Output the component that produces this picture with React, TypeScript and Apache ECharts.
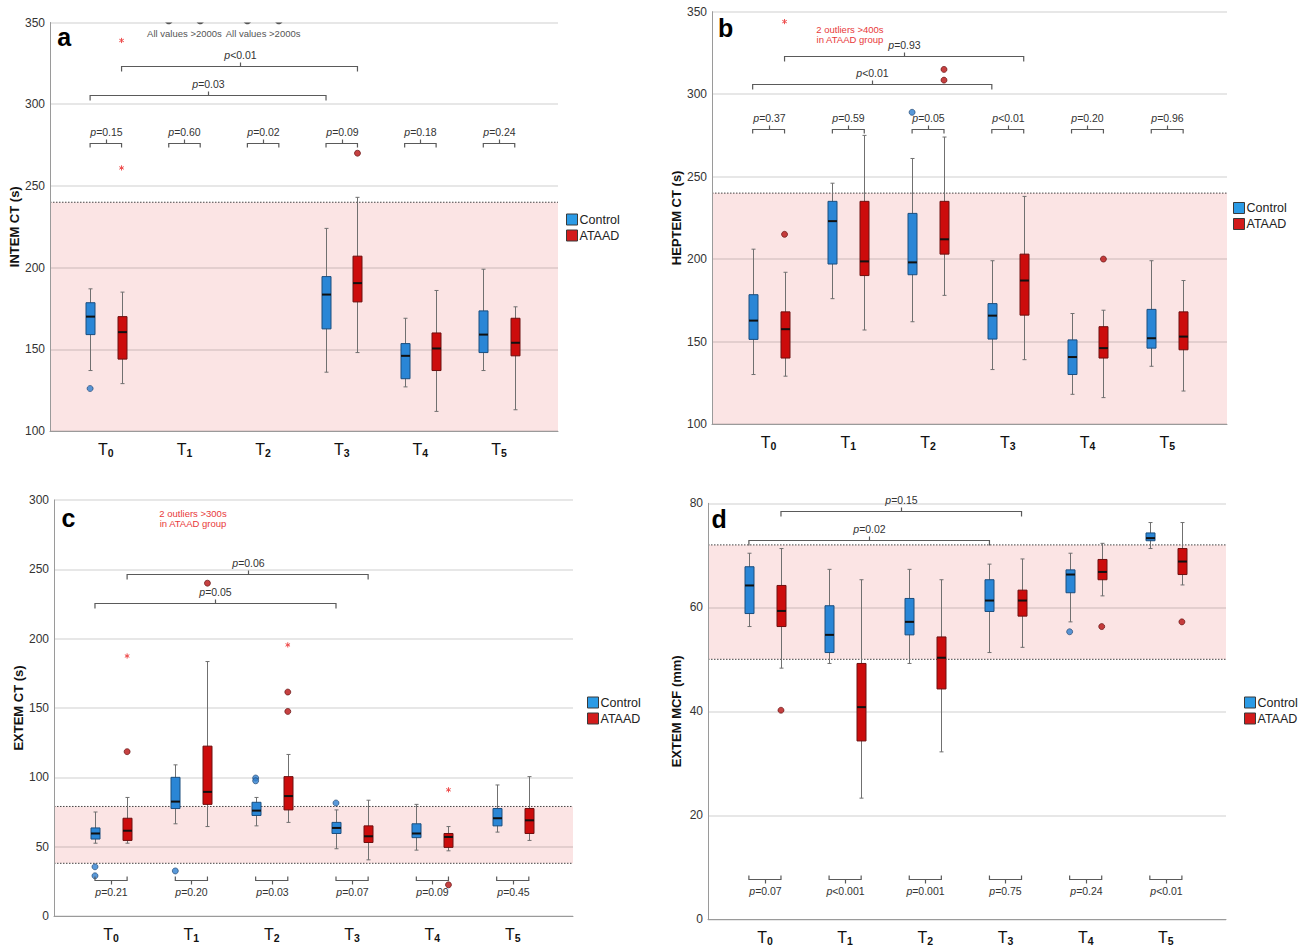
import React, { useEffect, useRef } from 'react';
import * as echarts from 'echarts';

// ---------- data ----------
const TIME_POINTS = ['0', '1', '2', '3', '4', '5'];
const GROUPS = ['Control', 'ATAAD'];

// each box: [lower whisker, Q1, median, Q3, upper whisker]; null = no box drawn
// Panel a: INTEM CT (s)
const INTEM_CONTROL = [
  [137, 159, 170, 178.5, 187],
  null,
  null,
  [136, 162.5, 183.5, 194.5, 224],
  [127, 132, 146, 153.5, 169],
  [137, 148, 159, 173.5, 199],
];
const INTEM_ATAAD = [
  [129, 144, 160.5, 170, 185],
  null,
  null,
  [148, 179, 190.5, 207, 243],
  [112, 137, 150.5, 160, 186],
  [113, 146, 154, 169, 176],
];
const INTEM_CONTROL_OUTLIERS = [[0, 126]];
const INTEM_ATAAD_OUTLIERS = [[3, 270]];
const INTEM_ATAAD_EXTREMES = [[0, 339], [0, 261]];
const INTEM_OFFSCALE_TIMES = [1, 2];
const INTEM_NOTE = ['All values >2000s'];
const INTEM_REF = [100, 240];
const INTEM_P_GROUP = ['=0.15', '=0.60', '=0.02', '=0.09', '=0.18', '=0.24'];
const INTEM_P_CONTROL = '=0.03';
const INTEM_P_ATAAD = '<0.01';

// Panel b: HEPTEM CT (s)
const HEPTEM_CONTROL = [
  [130, 151.3, 162.7, 178.4, 206],
  [176, 197, 223, 235, 246],
  [162, 190.5, 198, 227.7, 261],
  [133, 151.5, 165.7, 173, 199],
  [118, 130, 140.6, 151, 167],
  [135, 146, 152, 169.5, 199],
];
const HEPTEM_ATAAD = [
  [129, 140, 157.5, 168, 192],
  [157, 190, 198.6, 235, 275],
  [178, 203, 212, 235, 274],
  [139, 166, 187, 203, 238],
  [116, 140, 146, 159, 169],
  [120, 145, 153, 168, 187],
];
const HEPTEM_CONTROL_OUTLIERS = [[2, 289]];
const HEPTEM_ATAAD_OUTLIERS = [[0, 215], [2, 315], [2, 308.5], [4, 200]];
const HEPTEM_ATAAD_EXTREMES = [[0, 344]];
const HEPTEM_NOTE = ['2 outliers >400s', 'in ATAAD group'];
const HEPTEM_REF = [100, 240];
const HEPTEM_P_GROUP = ['=0.37', '=0.59', '=0.05', '<0.01', '=0.20', '=0.96'];
const HEPTEM_P_CONTROL = '<0.01';
const HEPTEM_P_ATAAD = '=0.93';

// Panel c: EXTEM CT (s)
const EXTEM_CT_CONTROL = [
  [52.5, 55.5, 59.5, 63.5, 75],
  [66.5, 77.5, 82.5, 100, 109],
  [65, 72.5, 76, 82, 85.5],
  [48.5, 59.5, 63.5, 67.5, 76.5],
  [47.5, 56.5, 59.5, 66.5, 80.5],
  [60.5, 65, 70.5, 77.5, 94.5],
];
const EXTEM_CT_ATAAD = [
  [52.5, 54.5, 61.5, 70.5, 85.5],
  [64.5, 80.5, 89.5, 122.5, 183.5],
  [67.5, 76.5, 86.5, 100.5, 116.5],
  [40.5, 53, 57.5, 65, 83.5],
  [47, 49.5, 57, 59.5, 64.5],
  [54.5, 59.5, 69, 77.5, 100.5],
];
const EXTEM_CT_CONTROL_OUTLIERS = [[0, 35.5], [0, 29], [1, 32.5], [2, 99.5], [2, 97.5], [3, 81.5]];
const EXTEM_CT_ATAAD_OUTLIERS = [[0, 118.5], [1, 240], [2, 161.5], [2, 147.5], [4, 22.5]];
const EXTEM_CT_ATAAD_EXTREMES = [[0, 187.5], [2, 195.5], [4, 91]];
const EXTEM_CT_NOTE = ['2 outliers >300s', 'in ATAAD group'];
const EXTEM_CT_REF = [38, 79];
const EXTEM_CT_P_GROUP = ['=0.21', '=0.20', '=0.03', '=0.07', '=0.09', '=0.45'];
const EXTEM_CT_P_CONTROL = '=0.05';
const EXTEM_CT_P_ATAAD = '=0.06';

// Panel d: EXTEM MCF (mm)
const EXTEM_MCF_CONTROL = [
  [56.3, 58.8, 64.2, 67.8, 70.4],
  [49.2, 51.3, 54.7, 60.3, 67.3],
  [49.2, 54.7, 57.2, 61.7, 67.3],
  [51.3, 59.2, 61.3, 65.3, 68.3],
  [57.2, 62.8, 66.3, 67.2, 70.4],
  [71.3, 72.8, 73.3, 74.3, 76.3],
];
const EXTEM_MCF_ATAAD = [
  [48.3, 56.3, 59.3, 64.2, 71.3],
  [23.3, 34.3, 40.8, 49.2, 65.3],
  [32.2, 44.3, 50.3, 54.3, 65.3],
  [52.3, 58.3, 61.3, 63.3, 69.3],
  [62.2, 65.3, 66.8, 69.2, 72.3],
  [64.3, 66.3, 68.8, 71.3, 76.3],
];
const EXTEM_MCF_CONTROL_OUTLIERS = [[4, 55.3]];
const EXTEM_MCF_ATAAD_OUTLIERS = [[0, 40.2], [4, 56.3], [5, 57.2]];
const EXTEM_MCF_ATAAD_EXTREMES: number[][] = [];
const EXTEM_MCF_REF = [50, 72];
const EXTEM_MCF_P_GROUP = ['=0.07', '<0.001', '=0.001', '=0.75', '=0.24', '<0.01'];
const EXTEM_MCF_P_CONTROL = '=0.02';
const EXTEM_MCF_P_ATAAD = '=0.15';

// ---------- layout / style ----------
const FONT = "'Liberation Sans', Arial, Helvetica, sans-serif";
const X_MIN = -0.71;
const X_MAX = 5.75;
const OFFSET = 0.2;
const BOX_HALF = 4.5;
const CAP = 2;
const WHISKER = '#707070';
const BRACKET = '#5a5a5a';
const BLUE = '#2a86d6';
const BLUE_EDGE = '#1b4e7e';
const RED = '#cc0c0c';
const RED_EDGE = '#6e1010';

const PANELS: any[] = [
  {
    letter: 'a', title: 'INTEM CT (s)', yMin: 100, yMax: 350, yInterval: 50,
    control: INTEM_CONTROL, ataad: INTEM_ATAAD,
    cOut: INTEM_CONTROL_OUTLIERS, aOut: INTEM_ATAAD_OUTLIERS, aExt: INTEM_ATAAD_EXTREMES,
    ref: INTEM_REF, refLow: false,
    pGroup: INTEM_P_GROUP, pControl: INTEM_P_CONTROL, pAtaad: INTEM_P_ATAAD,
    grid: { left: 50, top: 22.5, width: 508, height: 408.5 },
    legend: { left: 566, top: 212.5 },
    groupLevel: 276.1, groupDir: 1, controlLevel: 305.9, ataadLevel: 323.5,
    letterPos: [-0.53, 341], nameGap: 27,
    notes: INTEM_NOTE, notePos: [[1, 343.5], [2, 343.5]], noteKind: 'gray',
    offscale: INTEM_OFFSCALE_TIMES,
  },
  {
    letter: 'b', title: 'HEPTEM CT (s)', yMin: 100, yMax: 350, yInterval: 50,
    control: HEPTEM_CONTROL, ataad: HEPTEM_ATAAD,
    cOut: HEPTEM_CONTROL_OUTLIERS, aOut: HEPTEM_ATAAD_OUTLIERS, aExt: HEPTEM_ATAAD_EXTREMES,
    ref: HEPTEM_REF, refLow: false,
    pGroup: HEPTEM_P_GROUP, pControl: HEPTEM_P_CONTROL, pAtaad: HEPTEM_P_ATAAD,
    grid: { left: 712, top: 11.7, width: 515, height: 412.3 },
    legend: { left: 1233, top: 201 },
    groupLevel: 278.7, groupDir: 1, controlLevel: 305.9, ataadLevel: 323.1,
    letterPos: [-0.54, 340], nameGap: 25,
    notes: HEPTEM_NOTE, notePos: [[1.02, 339.3], [1.02, 333.4]], noteKind: 'red',
    offscale: [],
  },
  {
    letter: 'c', title: 'EXTEM CT (s)', yMin: 0, yMax: 300, yInterval: 50,
    control: EXTEM_CT_CONTROL, ataad: EXTEM_CT_ATAAD,
    cOut: EXTEM_CT_CONTROL_OUTLIERS, aOut: EXTEM_CT_ATAAD_OUTLIERS, aExt: EXTEM_CT_ATAAD_EXTREMES,
    ref: EXTEM_CT_REF, refLow: true,
    pGroup: EXTEM_CT_P_GROUP, pControl: EXTEM_CT_P_CONTROL, pAtaad: EXTEM_CT_P_ATAAD,
    grid: { left: 54, top: 500, width: 519, height: 416 },
    legend: { left: 587, top: 695.5 },
    groupLevel: 26.1, groupDir: -1, controlLevel: 225.5, ataadLevel: 246.6,
    letterPos: [-0.53, 287], nameGap: 25,
    notes: EXTEM_CT_NOTE, notePos: [[1.02, 290.4], [1.02, 283.4]], noteKind: 'red',
    offscale: [],
  },
  {
    letter: 'd', title: 'EXTEM MCF (mm)', yMin: 0, yMax: 80, yInterval: 20,
    control: EXTEM_MCF_CONTROL, ataad: EXTEM_MCF_ATAAD,
    cOut: EXTEM_MCF_CONTROL_OUTLIERS, aOut: EXTEM_MCF_ATAAD_OUTLIERS, aExt: EXTEM_MCF_ATAAD_EXTREMES,
    ref: EXTEM_MCF_REF, refLow: true,
    pGroup: EXTEM_MCF_P_GROUP, pControl: EXTEM_MCF_P_CONTROL, pAtaad: EXTEM_MCF_P_ATAAD,
    grid: { left: 708, top: 503.3, width: 518, height: 416 },
    legend: { left: 1244, top: 695.5 },
    groupLevel: 7.7, groupDir: -1, controlLevel: 72.9, ataadLevel: 78.5,
    letterPos: [-0.57, 77], nameGap: 25,
    notes: [], notePos: [], noteKind: 'red',
    offscale: [],
  },
];

const P_RICH = {
  i: { fontStyle: 'italic', fontSize: 10.5, fontFamily: FONT, fill: '#333', color: '#333' },
  n: { fontSize: 10.5, fontFamily: FONT, fill: '#333', color: '#333' },
};

const makeBoxRender = (offset: number, fill: string, stroke: string) => (params: any, api: any) => {
  const t = api.value(0) + offset;
  const lo = api.coord([t, api.value(1)]);
  const q1 = api.coord([t, api.value(2)]);
  const md = api.coord([t, api.value(3)]);
  const q3 = api.coord([t, api.value(4)]);
  const hi = api.coord([t, api.value(5)]);
  const cx = Math.round(lo[0]) + 0.5;
  const wl = { stroke: WHISKER, lineWidth: 1 };
  return {
    type: 'group',
    children: [
      { type: 'line', shape: { x1: cx, y1: hi[1], x2: cx, y2: lo[1] }, style: wl },
      { type: 'line', shape: { x1: cx - CAP, y1: hi[1], x2: cx + CAP, y2: hi[1] }, style: wl },
      { type: 'line', shape: { x1: cx - CAP, y1: lo[1], x2: cx + CAP, y2: lo[1] }, style: wl },
      { type: 'rect', shape: { x: cx - BOX_HALF, y: q3[1], width: BOX_HALF * 2, height: q1[1] - q3[1] }, style: { fill, stroke, lineWidth: 1 } },
      { type: 'line', shape: { x1: cx - BOX_HALF, y1: md[1], x2: cx + BOX_HALF, y2: md[1] }, style: { stroke: '#111', lineWidth: 2 } },
    ],
  };
};

function buildOption() {
  const grid: any[] = [];
  const xAxis: any[] = [];
  const yAxis: any[] = [];
  const series: any[] = [];
  const legend: any[] = [];

  PANELS.forEach((p, k) => {
    grid.push({ left: p.grid.left, top: p.grid.top, width: p.grid.width, height: p.grid.height, containLabel: false });
    xAxis.push({
      type: 'value', gridIndex: k, min: X_MIN, max: X_MAX,
      axisLine: { show: true, onZero: false, lineStyle: { color: '#9a9a9a', width: 1 } },
      axisTick: { show: false },
      splitLine: { show: false },
      axisLabel: {
        customValues: [0, 1, 2, 3, 4, 5],
        margin: 10,
        formatter: (v: number) => `{t|T}{s|${TIME_POINTS[Math.round(v)]}}`,
        rich: {
          t: { fontSize: 16, color: '#111', fontFamily: FONT },
          s: { fontSize: 10.5, color: '#111', fontFamily: FONT, fontWeight: 'bold', padding: [6, 0, 0, 0] },
        },
      },
    });
    yAxis.push({
      type: 'value', gridIndex: k, min: p.yMin, max: p.yMax, interval: p.yInterval,
      name: p.title, nameLocation: 'middle', nameGap: p.nameGap,
      nameTextStyle: { fontWeight: 'bold', fontSize: 13, color: '#111', fontFamily: FONT },
      axisLine: { show: true, onZero: false, lineStyle: { color: '#9a9a9a', width: 1 } },
      axisTick: { show: false },
      axisLabel: { fontSize: 12, color: '#333', margin: 5, fontFamily: FONT },
      splitLine: { show: true, lineStyle: { color: 'rgba(0,0,0,0.13)', width: 1.5 } },
    });

    // reference range band
    series.push({
      type: 'custom', name: `ref-${k}`, xAxisIndex: k, yAxisIndex: k, z: -1, silent: true,
      data: [[p.ref[0], p.ref[1]]],
      renderItem: (params: any, api: any) => {
        const cs = params.coordSys;
        const yLo = api.coord([0, api.value(0)])[1];
        const yHi = api.coord([0, api.value(1)])[1];
        const dot = { stroke: '#444', lineWidth: 1, lineDash: [1.5, 1.5] };
        const children: any[] = [
          { type: 'rect', shape: { x: cs.x, y: yHi, width: cs.width, height: yLo - yHi }, style: { fill: '#fbe4e4' } },
          { type: 'line', shape: { x1: cs.x, y1: yHi, x2: cs.x + cs.width, y2: yHi }, style: dot },
        ];
        if (p.refLow) children.push({ type: 'line', shape: { x1: cs.x, y1: yLo, x2: cs.x + cs.width, y2: yLo }, style: dot });
        return { type: 'group', children };
      },
    });

    const toBoxData = (arr: any[]) => arr.map((v, i) => (v ? [i, ...v] : null)).filter(Boolean);
    series.push({
      type: 'custom', name: GROUPS[0], xAxisIndex: k, yAxisIndex: k, silent: true,
      itemStyle: { color: BLUE, borderColor: BLUE_EDGE },
      dimensions: ['t', 'lo', 'q1', 'med', 'q3', 'hi'], encode: { x: 0, y: [1, 2, 3, 4, 5] },
      data: toBoxData(p.control), renderItem: makeBoxRender(-OFFSET, BLUE, BLUE_EDGE),
    });
    series.push({
      type: 'custom', name: GROUPS[1], xAxisIndex: k, yAxisIndex: k, silent: true,
      itemStyle: { color: RED, borderColor: RED_EDGE },
      dimensions: ['t', 'lo', 'q1', 'med', 'q3', 'hi'], encode: { x: 0, y: [1, 2, 3, 4, 5] },
      data: toBoxData(p.ataad), renderItem: makeBoxRender(OFFSET, RED, RED_EDGE),
    });

    // outliers
    series.push({
      type: 'scatter', name: `co-${k}`, xAxisIndex: k, yAxisIndex: k, silent: true, z: 4,
      symbol: 'circle', symbolSize: 6,
      itemStyle: { color: '#2f80cf', borderColor: '#1a3f6a', borderWidth: 0.8 },
      data: p.cOut.map((d: number[]) => [d[0] - OFFSET, d[1]]),
    });
    series.push({
      type: 'scatter', name: `ao-${k}`, xAxisIndex: k, yAxisIndex: k, silent: true, z: 4,
      symbol: 'circle', symbolSize: 6,
      itemStyle: { color: '#b81212', borderColor: '#5a0a0a', borderWidth: 0.8 },
      data: p.aOut.map((d: number[]) => [d[0] + OFFSET, d[1]]),
    });
    // extreme values (asterisks)
    series.push({
      type: 'custom', name: `ax-${k}`, xAxisIndex: k, yAxisIndex: k, silent: true, z: 4,
      data: p.aExt.map((d: number[]) => [d[0] + OFFSET, d[1]]),
      renderItem: (params: any, api: any) => {
        const c = api.coord([api.value(0), api.value(1)]);
        const r = 2.6;
        const st = { stroke: '#ee4b4b', lineWidth: 1 };
        const arms = [90, 30, 150].map((a) => {
          const rad = (a * Math.PI) / 180;
          const dx = Math.cos(rad) * r;
          const dy = Math.sin(rad) * r;
          return { type: 'line', shape: { x1: c[0] - dx, y1: c[1] - dy, x2: c[0] + dx, y2: c[1] + dy }, style: st };
        });
        return { type: 'group', children: arms };
      },
    });

    // brackets
    const brackets: any[] = [];
    p.pGroup.forEach((lab: string, i: number) => {
      brackets.push({ x1: i - OFFSET, x2: i + OFFSET, y: p.groupLevel, dir: p.groupDir, leg: 4, label: lab });
    });
    brackets.push({ x1: 0 - OFFSET, x2: 3 - OFFSET, y: p.controlLevel, dir: 1, leg: 5, label: p.pControl });
    brackets.push({ x1: 0 + OFFSET, x2: 3 + OFFSET, y: p.ataadLevel, dir: 1, leg: 5, label: p.pAtaad });
    series.push({
      type: 'custom', name: `br-${k}`, xAxisIndex: k, yAxisIndex: k, silent: true, z: 5, clip: false,
      data: brackets.map((b) => [b.x1, b.x2, b.y]),
      encode: { x: [0, 1], y: 2 },
      renderItem: (params: any, api: any) => {
        const b = brackets[params.dataIndex];
        const p1 = api.coord([api.value(0), api.value(2)]);
        const p2 = api.coord([api.value(1), api.value(2)]);
        const y = Math.round(p1[1]) + 0.5;
        const d = b.dir;
        const mid = Math.round((p1[0] + p2[0]) / 2) + 0.5;
        const st = { stroke: BRACKET, lineWidth: 1.2, fill: 'none' };
        return {
          type: 'group',
          children: [
            { type: 'polyline', shape: { points: [[p1[0], y + d * b.leg], [p1[0], y], [p2[0], y], [p2[0], y + d * b.leg]] }, style: st },
            { type: 'line', shape: { x1: mid, y1: y, x2: mid, y2: y - d * 4 }, style: st },
            {
              type: 'text', x: mid, y: y - d * 11.5,
              style: { text: `{i|p}{n|${b.label}}`, rich: P_RICH, align: 'center', verticalAlign: 'middle', fontSize: 10.5, fontFamily: FONT, fill: '#333' },
            },
          ],
        };
      },
    });

    // letter + notes
    const texts: any[] = [{ x: p.letterPos[0], y: p.letterPos[1], text: p.letter, kind: 'letter' }];
    p.notes.forEach((t: string, i: number) => {
      if (p.noteKind === 'gray') {
        p.notePos.forEach((pos: number[]) => texts.push({ x: pos[0], y: pos[1], text: t, kind: 'gray' }));
      } else {
        texts.push({ x: p.notePos[i][0], y: p.notePos[i][1], text: t, kind: 'red' });
      }
    });
    series.push({
      type: 'custom', name: `tx-${k}`, xAxisIndex: k, yAxisIndex: k, silent: true, z: 6, clip: false,
      data: texts.map((t) => [t.x, t.y]),
      renderItem: (params: any, api: any) => {
        const t = texts[params.dataIndex];
        const c = api.coord([api.value(0), api.value(1)]);
        let style: any;
        if (t.kind === 'letter') style = { text: t.text, fontSize: 25, fontWeight: 'bold', fill: '#000', fontFamily: FONT };
        else if (t.kind === 'gray') style = { text: t.text, fontSize: 9.5, fill: '#555', fontFamily: FONT };
        else style = { text: t.text, fontSize: 9.5, fill: '#e8393a', fontFamily: FONT };
        return { type: 'text', x: c[0], y: c[1], style: { ...style, align: 'center', verticalAlign: 'middle' } };
      },
    });

    // off-scale markers clipped at the top edge (panel a)
    if (p.offscale.length) {
      const pts: number[][] = [];
      p.offscale.forEach((t: number) => {
        pts.push([t - OFFSET, p.yMax]);
        pts.push([t + OFFSET, p.yMax]);
      });
      series.push({
        type: 'custom', name: `os-${k}`, xAxisIndex: k, yAxisIndex: k, silent: true, z: 4, clip: true,
        data: pts,
        renderItem: (params: any, api: any) => {
          const c = api.coord([api.value(0), api.value(1)]);
          return { type: 'circle', shape: { cx: c[0], cy: c[1] - 2.2, r: 4 }, style: { fill: '#555' } };
        },
      });
    }

    legend.push({
      data: [
        { name: GROUPS[0], itemStyle: { color: '#2b9be6', borderColor: '#3a3a3a', borderWidth: 1 } },
        { name: GROUPS[1], itemStyle: { color: '#d31b1b', borderColor: '#3a3a3a', borderWidth: 1 } },
      ],
      orient: 'vertical', left: p.legend.left, top: p.legend.top,
      itemWidth: 11, itemHeight: 11, itemGap: 2, icon: 'rect', selectedMode: false, padding: 0,
      textStyle: { fontSize: 12.5, color: '#222', fontFamily: FONT, lineHeight: 14, padding: [0, 0, 0, -3] },
    });
  });

  return {
    animation: false,
    backgroundColor: '#ffffff',
    textStyle: { fontFamily: FONT },
    grid, xAxis, yAxis, series, legend,
  };
}

export default function App() {
  const ref = useRef<HTMLDivElement>(null);
  useEffect(() => {
    document.body.style.margin = '0';
    const chart = echarts.init(ref.current as HTMLDivElement, null, { renderer: 'svg' });
    chart.setOption(buildOption() as any);
    return () => chart.dispose();
  }, []);
  return <div ref={ref} style={{ width: 1311, height: 948 }} />;
}
